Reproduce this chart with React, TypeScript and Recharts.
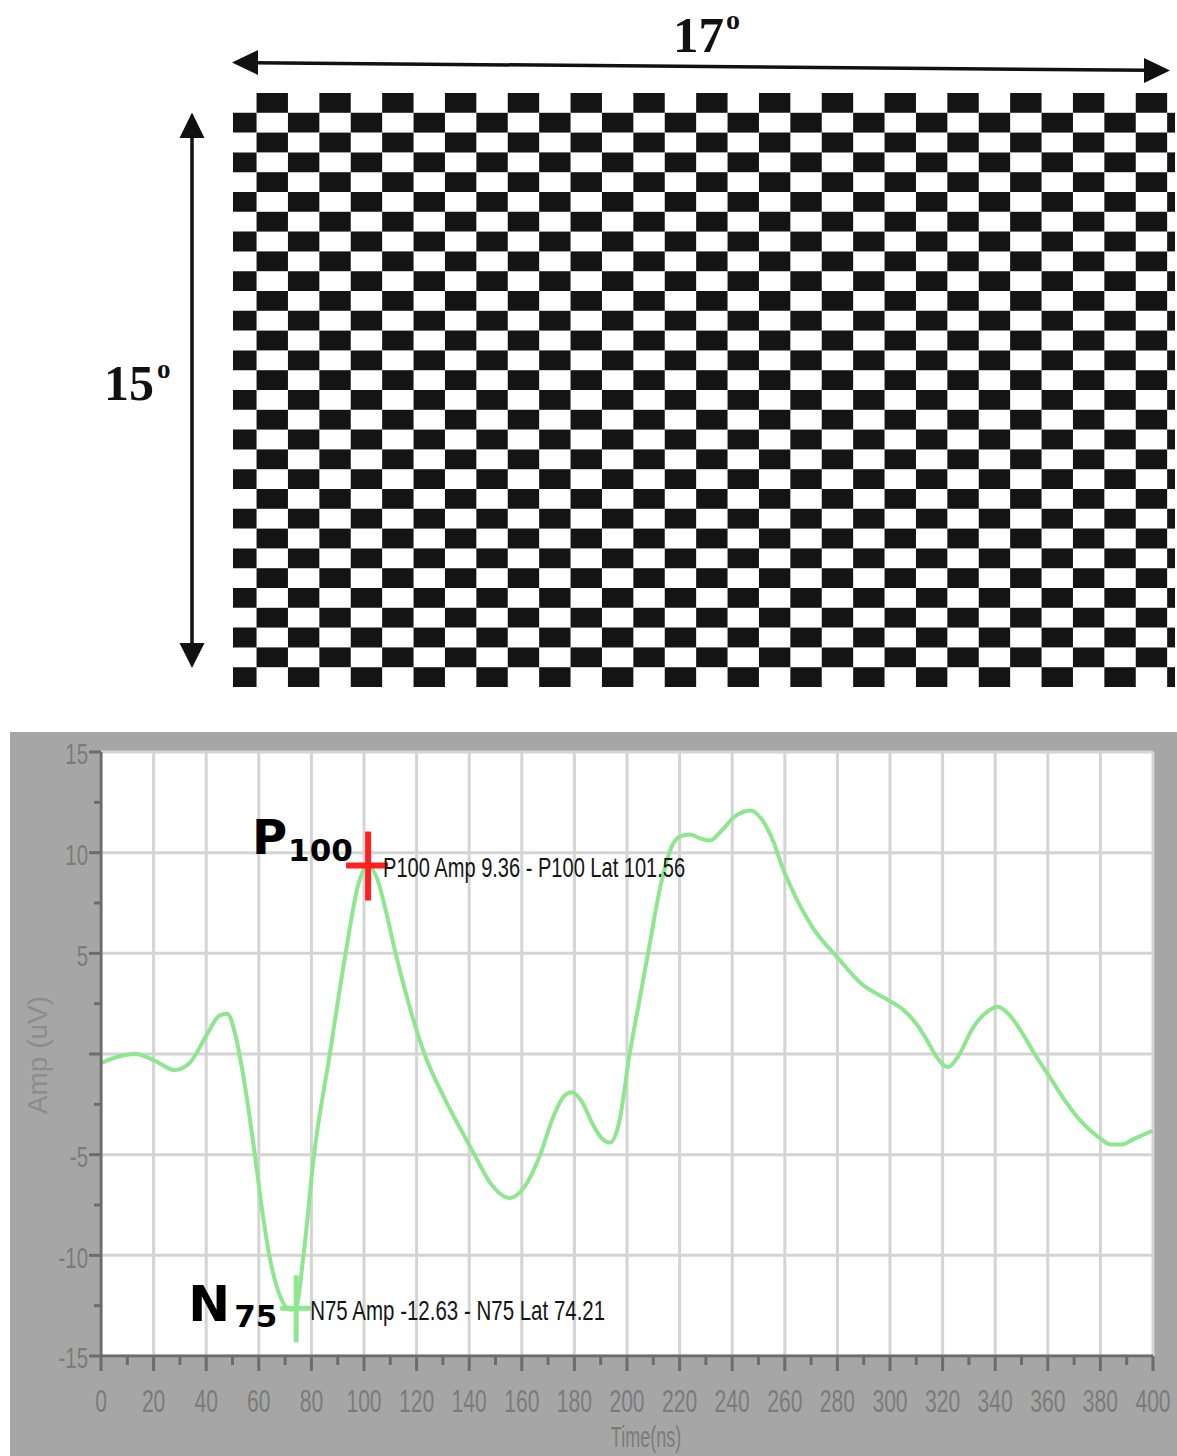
import React from 'react';
import {
  ScatterChart, Scatter, XAxis, YAxis, ReferenceArea,
  LineChart, Line, CartesianGrid, ReferenceDot, Label,
} from 'recharts';

// checkerboard stimulus: 30 rows, columns -1..29 (first and last one cut off)
const boardColumns = Array.from({ length: 31 }, (_, i) => i - 1);
const boardRows = Array.from({ length: 30 }, (_, i) => i);
const boardXDomain: [number, number] = [-0.75, 29.25];
const boardYDomain: [number, number] = [0, 30];

// VEP trace
const timeNs = [
  0, 6, 13, 20, 28, 34, 40, 45, 48, 51, 54, 58.5, 61, 64, 68, 72, 74.2, 77, 81, 87,
  93, 98, 101.5, 105, 108.5, 112, 117, 123, 131, 137, 142, 148, 155.5, 161, 167, 172,
  176, 179, 183, 187, 190.5, 193.5, 197, 201, 204.5, 208, 213, 217, 220, 224, 228,
  231.5, 236, 241, 247, 251, 255.5, 259, 263, 271, 280, 289, 299, 305, 310, 314, 318,
  322, 326, 331.5, 336, 341, 345, 350, 355, 361, 367, 373, 379, 384, 388, 393, 400,
];
const ampUv = [
  -0.45, -0.15, 0, -0.3, -0.8, -0.4, 0.9, 1.9, 2.0, 1.0, -1.0, -5, -7.5, -10, -12, -12.7, -12.6, -10, -5, 0,
  5, 8.5, 9.36, 8.7, 7, 5, 2.5, 0, -2.3, -3.8, -5, -6.4, -7.15, -6.6, -5, -3.1,
  -2.1, -1.9, -2.4, -3.5, -4.2, -4.4, -3.4, 0, 2.5, 5, 8.5, 10.3, 10.8, 10.9, 10.7,
  10.6, 11.1, 11.8, 12.1, 11.7, 10.6, 9.3, 8.1, 6.2, 4.8, 3.5, 2.7, 2.2, 1.5, 0.7, -0.2,
  -0.65, -0.1, 1.3, 2.0, 2.35, 2.0, 1.1, 0, -1.2, -2.4, -3.4, -4.1, -4.5, -4.5, -4.2, -3.8,
];

const p100 = { lat: 101.56, amp: 9.36, text: 'P100 Amp 9.36 - P100 Lat 101.56' };
const n75 = { lat: 74.21, amp: -12.63, text: 'N75 Amp -12.63 - N75 Lat 74.21' };

const xTicks = [
  0, 10, 20, 30, 40, 50, 60, 70, 80, 90, 100, 110, 120, 130, 140, 150, 160, 170, 180, 190, 200,
  210, 220, 230, 240, 250, 260, 270, 280, 290, 300, 310, 320, 330, 340, 350, 360, 370, 380, 390, 400,
];
const xGridValues = [0, 20, 40, 60, 80, 100, 120, 140, 160, 180, 200, 220, 240, 260, 280, 300, 320, 340, 360, 380, 400];
const yTicks = [-15, -12.5, -10, -7.5, -5, -2.5, 0, 2.5, 5, 7.5, 10, 12.5, 15];
const yGridValues = [-15, -10, -5, 0, 5, 10, 15];
const yLabelValues = [-15, -10, -5, 5, 10, 15];

const traceData = timeNs.map((t, i) => ({ t, amp: ampUv[i] }));

const blackCells = boardRows.flatMap((r) =>
  boardColumns
    .filter((c) => (c + r + 2) % 2 === 0)
    .map((c) => ({
      x1: Math.max(c, boardXDomain[0]),
      x2: Math.min(c + 1, boardXDomain[1]),
      y1: r,
      y2: r + 1,
    })),
);

const AXIS = '#6c6c6c';
const TICK_TEXT = '#7b7b7b';
const GREEN = '#8ee68e';
const RED = '#ff2020';
const TICK_FONT = '"Liberation Sans", Arial, sans-serif';
const SQUEEZE = 0.68; // the labels in the picture are strongly condensed

const YTick = (props: any) => {
  const { x, y, payload } = props;
  const v = payload.value;
  const major = v % 5 === 0;
  const label = yLabelValues.includes(v) ? String(v) : '';
  return (
    <g>
      <line x1={x} x2={x - (major ? 12 : 7)} y1={y} y2={y} stroke={AXIS} strokeWidth={3} />
      {label && (
        <text transform={`translate(${x - 13},${y + 1.5}) scale(${SQUEEZE},1)`} dy="0.36em" textAnchor="end"
          fontSize={30} fontFamily={TICK_FONT} fill={TICK_TEXT}>
          {label}
        </text>
      )}
    </g>
  );
};

const XTick = (props: any) => {
  const { x, y, payload } = props;
  const v = payload.value;
  const major = v % 20 === 0;
  return (
    <g>
      <line x1={x} x2={x} y1={y} y2={y + (major ? 15 : 9)} stroke={AXIS} strokeWidth={3} />
      {major && (
        <text transform={`translate(${x},${y + 56}) scale(${SQUEEZE},1)`} textAnchor="middle"
          fontSize={31} fontFamily={TICK_FONT} fill={TICK_TEXT}>
          {String(v)}
        </text>
      )}
    </g>
  );
};

const AmpLabel = (props: any) => {
  const { x, y, height } = props.viewBox;
  const cx = x - 14;
  const cy = y + height / 2 + 1;
  return (
    <text x={cx} y={cy} transform={`rotate(-90 ${cx} ${cy})`} textAnchor="middle" dominantBaseline="central"
      fontSize={28} fontFamily={TICK_FONT} fill="#8c8c8c">
      Amp (uV)
    </text>
  );
};

const TimeLabel = (props: any) => {
  const { x, y } = props.viewBox;
  return (
    <text transform={`translate(${x + 545},${y + 91}) scale(0.6,1)`} textAnchor="middle" fontSize={30}
      fontFamily={TICK_FONT} fill={TICK_TEXT}>
      Time(ns)
    </text>
  );
};

const BIG_FONT = '"DejaVu Sans", sans-serif';

const P100Marker = (props: any) => {
  const { cx, cy } = props;
  return (
    <g>
      <line x1={cx - 22} x2={cx + 20} y1={cy} y2={cy} stroke={RED} strokeWidth={6} />
      <line x1={cx} x2={cx} y1={cy - 34} y2={cy + 35} stroke={RED} strokeWidth={6} />
      <text x={cx + 15} y={cy + 11} fontSize={28} fontFamily={TICK_FONT} fill="#151515"
        textLength={302} lengthAdjust="spacingAndGlyphs">
        {p100.text}
      </text>
      <text x={cx - 116} y={cy - 12} fontSize={48} fontWeight="bold" fontFamily={BIG_FONT} fill="#000">P</text>
      <text x={cx - 80} y={cy - 5} fontSize={31} fontWeight="bold" fontFamily={BIG_FONT} fill="#000">100</text>
    </g>
  );
};

const N75Marker = (props: any) => {
  const { cx, cy } = props;
  return (
    <g>
      <line x1={cx - 16} x2={cx + 15} y1={cy} y2={cy} stroke={GREEN} strokeWidth={5} />
      <line x1={cx} x2={cx} y1={cy - 33} y2={cy + 34} stroke={GREEN} strokeWidth={5} />
      <text x={cx + 14} y={cy + 12} fontSize={28} fontFamily={TICK_FONT} fill="#151515"
        textLength={295} lengthAdjust="spacingAndGlyphs">
        {n75.text}
      </text>
      <text x={cx - 108} y={cy + 13} fontSize={50} fontWeight="bold" fontFamily={BIG_FONT} fill="#000">N</text>
      <text x={cx - 62} y={cy + 19} fontSize={31} fontWeight="bold" fontFamily={BIG_FONT} fill="#000">75</text>
    </g>
  );
};

const Arrows = () => (
  <svg width={1177} height={700} style={{ position: 'absolute', left: 0, top: 0, pointerEvents: 'none' }}>
    {/* horizontal 17° */}
    <line x1={254} y1={62.7} x2={1148} y2={70.3} stroke="#111" strokeWidth={3.5} />
    <polygon points="232,62.5 258,50 258,75" fill="#111" />
    <polygon points="1170,70.5 1144,58 1144,83" fill="#111" />
    {/* vertical 15° */}
    <line x1={192} y1={134} x2={192} y2={647} stroke="#111" strokeWidth={3.5} />
    <polygon points="192,112.5 179.5,138 204.5,138" fill="#111" />
    <polygon points="192,668 179.5,643 204.5,643" fill="#111" />
    <text x={673} y={52} fontSize={51} fontWeight="bold" fontFamily='"Liberation Serif", serif' fill="#111">17</text>
    <text x={726} y={28.5} fontSize={28} fontWeight="bold" fontFamily='"Liberation Serif", serif' fill="#111">o</text>
    <text x={104} y={400} fontSize={50} fontWeight="bold" fontFamily='"Liberation Serif", serif' fill="#111">15</text>
    <text x={157} y={377.5} fontSize={27} fontWeight="bold" fontFamily='"Liberation Serif", serif' fill="#111">o</text>
  </svg>
);

export default function App() {
  return (
    <div style={{ position: 'absolute', left: 0, top: 0, width: 1177, height: 1456, background: '#fff', overflow: 'hidden' }}>
      <div style={{ position: 'absolute', left: 0, top: 0 }}>
        <ScatterChart width={1177} height={700} margin={{ top: 93, right: 2, bottom: 13, left: 233 }}>
          <XAxis type="number" dataKey="x" domain={boardXDomain} allowDataOverflow hide />
          <YAxis type="number" dataKey="y" domain={boardYDomain} allowDataOverflow reversed hide />
          <Scatter data={[]} isAnimationActive={false} />
          {blackCells.map((c, i) => (
            <ReferenceArea key={i} x1={c.x1} x2={c.x2} y1={c.y1} y2={c.y2} fill="#141414" fillOpacity={1}
              stroke="none" ifOverflow="visible" />
          ))}
        </ScatterChart>
      </div>
      <Arrows />
      <div style={{ position: 'absolute', left: 10, top: 732, width: 1167, height: 724, background: '#a6a6a6' }}>
        <LineChart width={1167} height={724} data={traceData} margin={{ top: 20, right: 24, bottom: 40, left: 41 }}>
          <CartesianGrid horizontalValues={yGridValues} verticalValues={xGridValues} stroke="#d4d4d4"
            strokeWidth={3} fill="#ffffff" fillOpacity={1} />
          <XAxis type="number" dataKey="t" domain={[0, 400]} ticks={xTicks} interval={0} height={60}
            tickSize={0} tickMargin={0} tickLine={false} allowDataOverflow
            axisLine={{ stroke: AXIS, strokeWidth: 3 }} tick={(p: any) => <XTick {...p} />}
            label={<Label content={TimeLabel} />} />
          <YAxis type="number" domain={[-15, 15]} ticks={yTicks} interval={0} width={50}
            tickSize={0} tickMargin={0} tickLine={false} allowDataOverflow
            axisLine={{ stroke: AXIS, strokeWidth: 3 }} tick={(p: any) => <YTick {...p} />}
            label={<Label content={AmpLabel} />} />
          <Line dataKey="amp" type="monotone" stroke={GREEN} strokeWidth={4} dot={false} isAnimationActive={false} />
          <ReferenceDot x={n75.lat} y={n75.amp} r={0} shape={(p: any) => <N75Marker {...p} />} />
          <ReferenceDot x={p100.lat} y={p100.amp} r={0} shape={(p: any) => <P100Marker {...p} />} />
        </LineChart>
      </div>
    </div>
  );
}
